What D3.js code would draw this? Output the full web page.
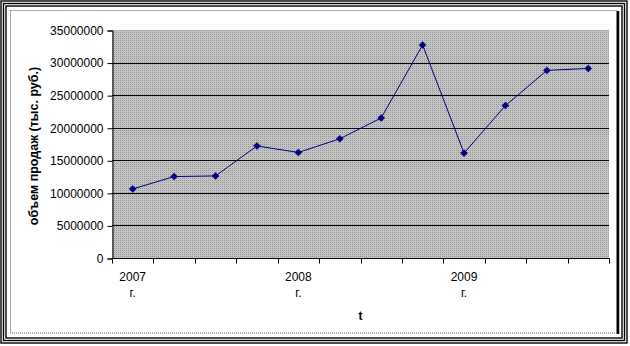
<!DOCTYPE html>
<html>
<head>
<meta charset="utf-8">
<script src="https://cdn.jsdelivr.net/npm/d3@7"></script>
<style>
  html, body { margin: 0; padding: 0; background: #fff; }
  svg { display: block; font-family: "Liberation Sans", Arial, sans-serif; }
</style>
</head>
<body>
<div id="chart"></div>
<script>
// квартальные значения, 2007-2009
const quarters = ['2007-1', '2007-2', '2007-3', '2007-4', '2008-1', '2008-2', '2008-3', '2008-4', '2009-1', '2009-2', '2009-3', '2009-4']
const quarterLabels = ['2007 г.', '', '', '', '2008 г.', '', '', '', '2009 г.', '', '', '']
const salesValues = [10600000, 12500000, 12600000, 17200000, 16200000, 18300000, 21500000, 32700000, 16100000, 23400000, 28800000, 29100000]
const yTicks = [0, 5000000, 10000000, 15000000, 20000000, 25000000, 30000000, 35000000]

const width = 630
const height = 346
const plot = { left: 112, right: 609, top: 30, bottom: 258 }

const svg = d3.select('#chart').append('svg')
  .attr('width', width)
  .attr('height', height)

// фон с точечной штриховкой
const defs = svg.append('defs')
const pat = defs.append('pattern')
  .attr('id', 'dots')
  .attr('width', 2)
  .attr('height', 2)
  .attr('patternUnits', 'userSpaceOnUse')
pat.append('rect').attr('width', 2).attr('height', 2).attr('fill', '#c4c4c4')
pat.append('rect').attr('width', 1).attr('height', 1).attr('fill', '#969696')

// тройная рамка
const frames = [
  { x0: 1, y0: 1, x1: 627, y1: 343 },
  { x0: 3.5, y0: 3.5, x1: 624.5, y1: 340.5 },
  { x0: 6, y0: 6, x1: 622, y1: 338 }
]
frames.forEach(f => {
  svg.append('rect')
    .attr('x', f.x0).attr('y', f.y0)
    .attr('width', f.x1 - f.x0).attr('height', f.y1 - f.y0)
    .attr('fill', 'none').attr('stroke', '#000').attr('stroke-width', 1.4)
})

// область диаграммы
svg.append('rect')
  .attr('x', 10.5).attr('y', 10.5)
  .attr('width', 606).attr('height', 322.5)
  .attr('fill', '#fff')
  .attr('stroke', '#555')
  .attr('stroke-dasharray', '1,1')
svg.append('line')
  .attr('x1', 618).attr('y1', 11).attr('x2', 618).attr('y2', 334)
  .attr('stroke', '#000').attr('stroke-width', 2.5)

const x = d3.scaleBand()
  .domain(quarters)
  .range([plot.left, plot.right])

const y = d3.scaleLinear()
  .domain([0, 35000000])
  .range([plot.bottom, plot.top])

svg.append('rect')
  .attr('x', plot.left).attr('y', plot.top)
  .attr('width', plot.right - plot.left).attr('height', plot.bottom - plot.top)
  .attr('fill', 'url(#dots)')

// линии сетки
svg.append('g')
  .selectAll('line')
  .data(yTicks.filter(d => d > 0 && d < 35000000))
  .join('line')
  .attr('x1', plot.left).attr('x2', plot.right)
  .attr('y1', d => Math.round(y(d)) + 0.5)
  .attr('y2', d => Math.round(y(d)) + 0.5)
  .attr('stroke', '#000')

// ось Y
const yAxis = svg.append('g')
  .attr('transform', `translate(${plot.left + 0.5},0.5)`)
  .call(d3.axisLeft(y).tickValues(yTicks).tickFormat(d3.format('d')).tickSize(5).tickPadding(4))
yAxis.select('.domain').attr('stroke', '#000')
yAxis.selectAll('text').attr('font-size', 12).attr('fill', '#000')
yAxis.selectAll('.tick line').attr('stroke', '#000')

// ось X
const xAxis = svg.append('g')
  .attr('transform', `translate(0.5,${plot.bottom + 0.5})`)
xAxis.append('line')
  .attr('x1', plot.left).attr('x2', plot.right)
  .attr('stroke', '#000')
const bounds = quarters.map(q => x(q)).concat([x(quarters[quarters.length - 1]) + x.bandwidth()])
xAxis.selectAll('.tk')
  .data(bounds)
  .join('line')
  .attr('class', 'tk')
  .attr('x1', d => Math.round(d)).attr('x2', d => Math.round(d))
  .attr('y1', 0).attr('y2', 5)
  .attr('stroke', '#000')

const labelG = svg.append('g')
quarters.forEach((q, i) => {
  if (!quarterLabels[i]) return
  const parts = quarterLabels[i].split(' ')
  const t = labelG.append('text')
    .attr('x', x(q) + x.bandwidth() / 2)
    .attr('y', 281)
    .attr('text-anchor', 'middle')
    .attr('font-size', 12)
  parts.forEach((p, j) => {
    t.append('tspan')
      .attr('x', x(q) + x.bandwidth() / 2)
      .attr('dy', j === 0 ? 0 : 16)
      .text(p)
  })
})

// подписи осей
svg.append('text')
  .attr('x', (plot.left + plot.right) / 2)
  .attr('y', 320)
  .attr('text-anchor', 'middle')
  .attr('font-size', 12)
  .attr('font-weight', 'bold')
  .text('t')

svg.append('text')
  .attr('transform', `translate(38,${(plot.top + plot.bottom) / 2 + 2}) rotate(-90)`)
  .attr('text-anchor', 'middle')
  .attr('font-size', 12.5)
  .attr('font-weight', 'bold')
  .text('объем продаж (тыс. руб.)')

// ряд
const cx = (d, i) => x(quarters[i]) + x.bandwidth() / 2
const line = d3.line()
  .x((d, i) => cx(d, i))
  .y(d => y(d))

svg.append('path')
  .datum(salesValues)
  .attr('d', line)
  .attr('fill', 'none')
  .attr('stroke', '#000080')
  .attr('stroke-width', 1)

svg.append('g')
  .selectAll('path')
  .data(salesValues)
  .join('path')
  .attr('d', d3.symbol(d3.symbolDiamond2, 32))
  .attr('transform', (d, i) => `translate(${cx(d, i)},${y(d)})`)
  .attr('fill', '#000080')
  .attr('stroke', '#000080')
  .attr('stroke-width', 0.5)
</script>
</body>
</html>
